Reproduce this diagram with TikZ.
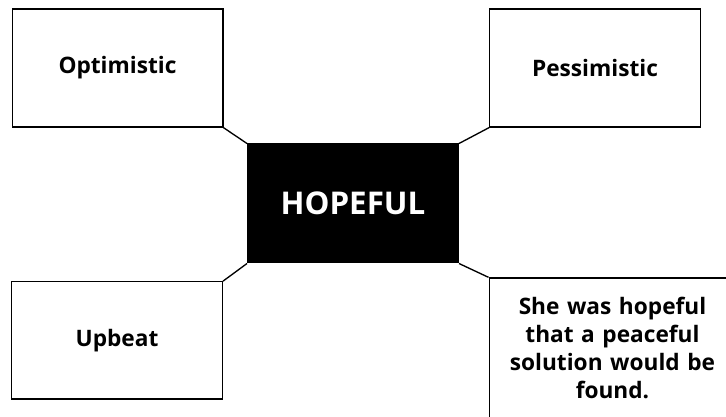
\documentclass[tikz,border=0pt]{standalone}
\usepackage{fontspec}
\setmainfont{Open Sans}
\usetikzlibrary{positioning}
\tikzset{wordbox/.style={draw,line width=1pt,minimum width=158pt,minimum height=88.5pt,font=\fontsize{17}{21}\selectfont\bfseries,inner sep=0pt},
  keybox/.style={wordbox,fill=black,text=white,font=\fontsize{23.5}{28}\selectfont\bfseries},
  link/.style={line width=1pt}}

\begin{document}
\begin{tikzpicture}[x=0.75pt,y=-0.75pt]
\clip (0,0) rectangle (726,417);
\node[keybox,minimum height=89pt] (hope) at (353,203.5) {HOPEFUL};
\node[wordbox] (opt) at (117.5,68) {Optimistic};
\node[wordbox] (pess) at (595,68) {Pessimistic};
\node[wordbox,minimum height=88pt] (up) at (117,340.5) {Upbeat};
\node[wordbox,minimum width=185pt,minimum height=105pt,text width=160pt,align=center] (ex) at (612.5,348) {She was hopeful\\that a peaceful\\solution would be\\found.};
% corner to corner
\draw[link] (opt.south east) -- (hope.north west);
\draw[link] (pess.south west) -- (hope.north east);
\draw[link] (up.north east) -- (hope.south west);
\draw[link] (ex.north west) -- (hope.south east);
\end{tikzpicture}
\end{document}
